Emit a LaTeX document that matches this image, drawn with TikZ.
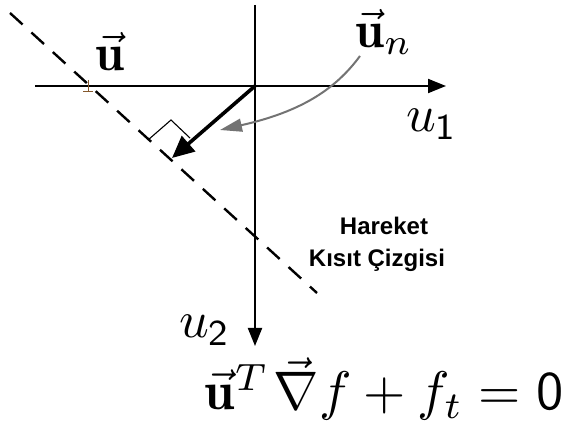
\documentclass[tikz,border=0pt]{standalone}
\usepackage{fontspec}
\newfontfamily\labelfont{Liberation Sans}
\usetikzlibrary{arrows.meta}
\tikzset{
  axis/.style={line width=2pt,-{Triangle[length=18pt,width=14pt]}},
  dashline/.style={line width=2.4pt,dash pattern=on 17pt off 12pt},
  vecarrow/.style={line width=3.6pt,-{Triangle[length=22pt,width=20pt]}},
  greyarrow/.style={line width=2pt,draw=black!55,-{Triangle[length=22pt,width=13pt]}},
  mathlbl/.style={scale=5.2,inner sep=0pt},
  txtlbl/.style={inner sep=0pt,font=\labelfont\bfseries\fontsize{24}{28}\selectfont},
}
\begin{document}
\begin{tikzpicture}[x=1pt,y=-1pt]
\useasboundingbox (0,0) rectangle (566,425);
% axes
\coordinate (O) at (255,86);
\coordinate (xs) at (35,86);
\coordinate (xe) at (446,86);
\coordinate (ys) at (255,5);
\coordinate (ye) at (255,346);
\draw[axis] (xs) -- (xe);
\draw[axis] (ys) -- (ye);
% constraint line
\coordinate (ds) at (10,13);
\coordinate (de) at (317,293);
\draw[dashline] (ds) -- (de);
% normal vector
\coordinate (P) at (172,158);
\draw[vecarrow] (O) -- (P);
% right angle mark
\coordinate (ra) at (148,140);
\coordinate (rb) at (171,120);
\coordinate (rc) at (190,138);
\draw[line width=1.1pt] (ra) -- (rb) -- (rc);
% small tick on line
\coordinate (tk) at (88,86);
\draw[line width=1pt,draw=brown!70!black] ([yshift=6pt]tk) -- ([yshift=-6pt]tk)
  ([xshift=-5pt,yshift=-6pt]tk) -- ([xshift=5pt,yshift=-6pt]tk);
% labels
\node[mathlbl] (ulbl) at (110,52) {$\vec{\mathbf u}$};
\node[mathlbl] (unlbl) at (384,32) {$\vec{\mathbf u}_n$};
\node[mathlbl] (u1lbl) at (432,124) {$u_{\mathsf 1}$};
\node[mathlbl] (u2lbl) at (205,330) {$u_{\mathsf 2}$};
\node[txtlbl] (har) at (384,226) {Hareket};
\node[txtlbl] (kis) at (377,260) {Kısıt Çizgisi};
\node[mathlbl,scale=1.045] (eq) at (384,389) {$\vec{\mathbf u}^T\mkern1.5mu\vec\nabla f+f_t=\mathsf 0$};
% grey pointer
\coordinate (gs) at (360,56);
\coordinate (ge) at (220,130);
\draw[greyarrow] (gs) .. controls (335,90) and (300,112) .. (ge);
\end{tikzpicture}
\end{document}
